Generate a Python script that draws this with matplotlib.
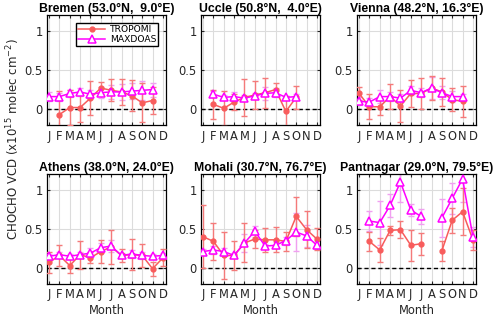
import numpy as np
import matplotlib.pyplot as plt

plt.rcParams['font.family'] = ['DejaVu Sans']

months = ['J', 'F', 'M', 'A', 'M', 'J', 'J', 'A', 'S', 'O', 'N', 'D']
nan = np.nan

sites = ['Bremen (53.0°N,  9.0°E)', 'Uccle (50.8°N,  4.0°E)', 'Vienna (48.2°N, 16.3°E)',
         'Athens (38.0°N, 24.0°E)', 'Mohali (30.7°N, 76.7°E)', 'Pantnagar (29.0°N, 79.5°E)']

# TROPOMI monthly mean and error
trop = [
    [nan, -0.07, 0.02, 0.02, 0.14, 0.27, 0.24, 0.22, 0.17, 0.08, 0.11, nan],
    [nan, 0.06, 0.01, 0.09, 0.15, 0.18, 0.21, 0.25, -0.03, 0.15, nan, nan],
    [0.20, 0.03, 0.03, 0.16, 0.04, 0.20, 0.20, 0.27, 0.22, 0.12, 0.10, nan],
    [0.07, 0.16, 0.03, 0.17, 0.13, 0.21, 0.27, 0.16, 0.17, 0.16, -0.01, 0.13],
    [0.40, 0.34, 0.16, 0.16, 0.32, 0.37, 0.36, 0.36, 0.34, 0.66, 0.49, 0.37],
    [nan, 0.34, 0.23, 0.48, 0.49, 0.29, 0.31, nan, 0.22, 0.61, 0.72, 0.36],
]
trop_err = [
    [nan, 0.30, 0.22, 0.18, 0.22, 0.08, 0.14, 0.17, 0.20, 0.25, 0.17, nan],
    [nan, 0.19, 0.22, 0.10, 0.24, 0.18, 0.19, 0.08, 0.20, 0.15, nan, nan],
    [0.08, 0.16, 0.10, 0.16, 0.21, 0.17, 0.20, 0.15, 0.18, 0.15, 0.20, nan],
    [0.13, 0.14, 0.10, 0.18, 0.07, 0.15, 0.22, 0.08, 0.20, 0.15, 0.09, 0.11],
    [0.40, 0.24, 0.30, 0.18, 0.25, 0.11, 0.15, 0.16, 0.12, 0.25, 0.24, 0.14],
    [nan, 0.12, 0.15, 0.06, 0.11, 0.20, 0.14, nan, 0.13, 0.16, 0.30, 0.13],
]

# MAXDOAS monthly mean and error
maxd = [
    [0.16, 0.16, 0.20, 0.22, 0.19, 0.21, 0.22, 0.22, 0.23, 0.24, 0.25, nan],
    [nan, 0.19, 0.15, 0.16, 0.14, 0.17, 0.20, 0.21, 0.15, 0.16, nan, nan],
    [0.10, 0.09, 0.16, 0.16, 0.14, 0.24, 0.21, 0.27, 0.21, 0.16, 0.16, nan],
    [0.15, 0.17, 0.15, 0.17, 0.19, 0.26, 0.28, 0.16, 0.18, 0.16, 0.15, 0.16],
    [0.21, 0.23, 0.21, 0.16, 0.32, 0.47, 0.28, 0.29, 0.35, 0.46, 0.41, 0.29],
    [nan, 0.60, 0.58, 0.80, 1.10, 0.74, 0.66, nan, 0.64, 0.89, 1.14, 0.40],
]
maxd_err = [
    [0.06, 0.05, 0.05, 0.05, 0.06, 0.07, 0.09, 0.10, 0.10, 0.12, 0.09, nan],
    [nan, 0.04, 0.03, 0.06, 0.04, 0.04, 0.08, 0.06, 0.02, 0.03, nan, nan],
    [0.05, 0.05, 0.08, 0.06, 0.05, 0.06, 0.06, 0.14, 0.08, 0.07, 0.03, nan],
    [0.03, 0.03, 0.03, 0.04, 0.06, 0.06, 0.08, 0.03, 0.05, 0.04, 0.03, 0.03],
    [0.03, 0.05, 0.04, 0.03, 0.12, 0.07, 0.03, 0.04, 0.05, 0.24, 0.14, 0.05],
    [nan, 0.13, 0.28, 0.15, 0.25, 0.08, 0.10, nan, 0.24, 0.20, 0.30, 0.13],
]

x = np.arange(1, 13)
red = '#f85c5c'
red_err = '#f47a7a'
mag = '#ff00ff'
mag_err = '#f0a0f0'
txt = '#262626'

fig = plt.figure(figsize=(5, 3.19), dpi=100)
lefts = [0.094, 0.402, 0.714]
bottoms = [0.609, 0.111]
w, h = 0.238, 0.343

for i, name in enumerate(sites):
    ax = fig.add_axes([lefts[i % 3], bottoms[i // 3], w, h])
    ax.axhline(0, color='black', ls='--', lw=1, dashes=(3, 2), zorder=1)
    ax.errorbar(x, maxd[i], yerr=maxd_err[i], fmt='none', ecolor=mag_err,
                elinewidth=1, capsize=2.5, capthick=1, zorder=2)
    ax.errorbar(x, trop[i], yerr=trop_err[i], fmt='none', ecolor=red_err,
                elinewidth=1, capsize=2.5, capthick=1, zorder=3)
    ax.plot(x, trop[i], color=red, marker='o', ms=3.5, lw=1.1, zorder=4, label='TROPOMI')
    ax.plot(x, maxd[i], color=mag, marker='^', ms=5.5, mfc='white', mew=1.1,
            lw=1.1, zorder=5, label='MAXDOAS')

    ax.set_xlim(0.8, 12.3)
    ax.set_ylim(-0.2, 1.2)
    ax.set_xticks(x)
    ax.set_xticklabels(months)
    ax.set_yticks([0, 0.5, 1])
    ax.set_yticklabels(['0', '0.5', '1'])
    ax.grid(True, color='#dcdcdc', lw=0.8)
    ax.set_axisbelow(True)
    ax.tick_params(direction='in', length=2.5, top=True, right=True,
                   labelsize=8.3, colors=txt, pad=3)
    ax.tick_params(axis='x', pad=3.5)
    for sp in ax.spines.values():
        sp.set_color('black')
        sp.set_linewidth(0.9)
    ax.set_title(name, fontsize=8.8, fontweight='bold', pad=2.5,
                 family=['Liberation Sans', 'DejaVu Sans'])
    if i >= 3:
        ax.set_xlabel('Month', fontsize=8.3, color=txt, labelpad=1.5)
    if i == 0:
        ax.legend(loc='upper right', fontsize=6.6, frameon=True, fancybox=False,
                  edgecolor='black', framealpha=1, handlelength=3.0,
                  borderpad=0.2, labelspacing=0.1, handletextpad=0.5,
                  borderaxespad=0.85)

fig.text(0.026, 0.565, 'CHOCHO VCD (x10$^{15}$ molec cm$^{-2}$)', rotation=90,
         ha='center', va='center', fontsize=8.5, color=txt)

fig.savefig('out.png', dpi=100)
